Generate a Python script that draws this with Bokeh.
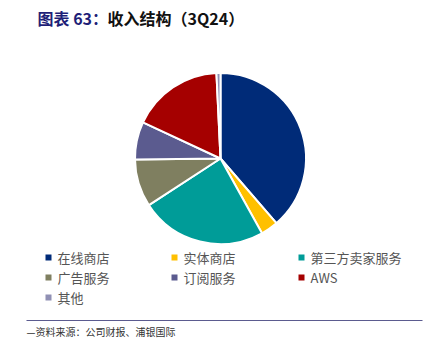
import numpy as np
from bokeh.plotting import figure
from bokeh.models import Range1d, ColumnDataSource
from bokeh.core.properties import value
from bokeh.embed import file_html
from bokeh.resources import INLINE

categories = ["在线商店", "实体商店", "第三方卖家服务", "广告服务", "订阅服务", "AWS", "其他"]
revenue = [61.4, 5.2, 37.9, 14.3, 11.3, 27.5, 1.2]
colors = ["#002B78", "#FFC000", "#009C98", "#7F7F60", "#5B5B8F", "#A50000", "#9090B4"]

W, H = 428, 353
p = figure(width=W, height=H, output_backend="svg", toolbar_location=None,
           x_range=Range1d(0, W), y_range=Range1d(H, 0), min_border=0)
p.axis.visible = False
p.grid.visible = False
p.outline_line_color = None
p.background_fill_color = "white"

# pie (clockwise from 12 o'clock)
vals = np.array(revenue, dtype=float)
frac = vals / vals.sum() * 2 * np.pi
cum = np.concatenate([[0], np.cumsum(frac)])
start = np.pi / 2 - cum[:-1]
end = np.pi / 2 - cum[1:]
src = ColumnDataSource(dict(start=start, end=end, color=colors, cat=categories))
p.wedge(x=220, y=158, radius=85.5, start_angle="start", end_angle="end",
        direction="clock", fill_color="color", line_color="white",
        line_width=2, source=src)

# title
p.text(x=[37], y=[17], text=["图表 63："], text_font=value("Noto Sans CJK SC"),
       text_font_size="16px", text_font_style="bold", text_color="#1F1F78",
       text_baseline="middle", text_align="left")
p.text(x=[107], y=[17], text=["收入结构（3Q24）"], text_font=value("Noto Sans CJK SC"),
       text_font_size="16px", text_font_style="bold", text_color="#111111",
       text_baseline="middle", text_align="left")

# legend
col_x = [48, 174, 301]
row_y = [257, 277, 297]
lx, ly = [], []
for i in range(len(categories)):
    lx.append(col_x[i % 3])
    ly.append(row_y[i // 3])
lsrc = ColumnDataSource(dict(x=lx, y=ly, tx=[v + 9 for v in lx], cat=categories, color=colors))
p.scatter(x="x", y="y", marker="square", size=6, fill_color="color", line_color=None, source=lsrc)
p.text(x="tx", y="y", text="cat", text_font=value("Noto Sans CJK SC"), text_font_size="13px",
       text_color="#555555", text_baseline="middle", text_align="left", source=lsrc)

# footer
p.segment(x0=[26], y0=[320], x1=[422], y1=[320], line_color="#5B5B8F", line_width=1.2)
p.text(x=[26], y=[331], text=["—资料来源：公司财报、浦银国际"], text_font=value("Noto Sans CJK SC"),
       text_font_size="10px", text_color="#333333", text_baseline="middle", text_align="left")

open("out.html", "w").write(file_html(p, INLINE))
